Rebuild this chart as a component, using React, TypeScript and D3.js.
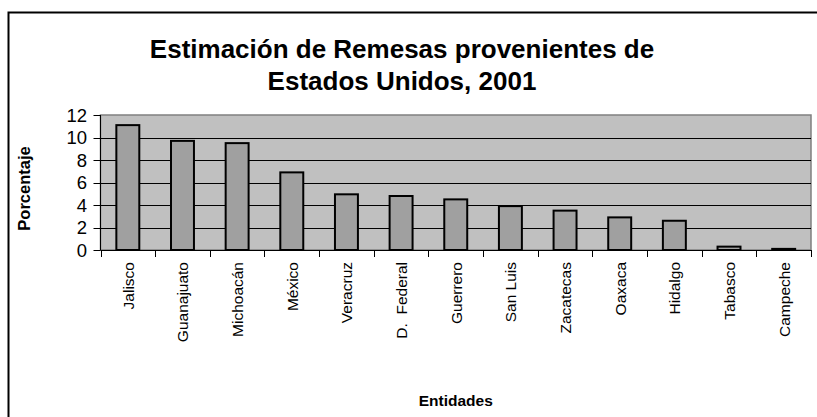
import React from "react";
import * as d3 from "d3";

const categories = ["Jalisco", "Guanajuato", "Michoacán", "México", "Veracruz", "D.  Federal", "Guerrero", "San Luis", "Zacatecas", "Oaxaca", "Hidalgo", "Tabasco", "Campeche"];
const values = [11.1, 9.7, 9.5, 6.9, 4.95, 4.8, 4.5, 3.9, 3.5, 2.9, 2.6, 0.3, 0.1];
const yTicks = [0, 2, 4, 6, 8, 10, 12];
const titleLines = ["Estimación de Remesas provenientes de", "Estados Unidos, 2001"];

export default function App() {
  const W = 817, H = 417;
  const left = 100.5, right = 811, top = 115, bottom = 250;
  const x = d3.scaleBand<string>().domain(categories).range([left, right]).paddingInner(0.58).paddingOuter(0.29);
  const y = d3.scaleLinear().domain([0, 12]).range([bottom, top]);
  const step = x.step();
  const font = "Arial, 'Liberation Sans', Helvetica, sans-serif";
  return (
    <div style={{ position: "absolute", left: 0, top: 0 }}>
      <svg width={W} height={H} style={{ display: "block" }} fontFamily={font}>
        <rect x={0} y={0} width={W} height={H} fill="white" />
        <rect x={8.5} y={12.5} width={W + 20} height={H + 20} fill="none" stroke="black" strokeWidth={2} />
        {titleLines.map((t, i) => (
          <text key={i} x={402} y={58 + i * 32} textAnchor="middle" fontSize={26} fontWeight="bold">{t}</text>
        ))}
        <rect x={left} y={top} width={right - left} height={bottom - top} fill="#C0C0C0" stroke="#808080" strokeWidth={1.5} />
        {yTicks.filter(v => v > 0 && v < 12).map(v => (
          <line key={v} x1={left} x2={right} y1={Math.round(y(v)) + 0.5} y2={Math.round(y(v)) + 0.5} stroke="black" strokeWidth={1} />
        ))}
        {categories.map((c, i) => (
          <rect key={c} x={x(c)} y={y(values[i])} width={x.bandwidth()} height={bottom - y(values[i])} fill="#A0A0A0" stroke="black" strokeWidth={2} />
        ))}
        <line x1={left} x2={left} y1={top} y2={bottom} stroke="black" strokeWidth={1} />
        <line x1={left} x2={right} y1={bottom + 0.5} y2={bottom + 0.5} stroke="black" strokeWidth={1} />
        {yTicks.map(v => (
          <g key={v}>
            <line x1={left - 7} x2={left} y1={Math.round(y(v)) + 0.5} y2={Math.round(y(v)) + 0.5} stroke="black" />
            <text x={87} y={y(v)} dy="0.36em" textAnchor="end" fontSize={18.5}>{v}</text>
          </g>
        ))}
        {d3.range(categories.length + 1).map(i => {
          const xx = Math.round(left + i * step) + 0.5;
          return <line key={i} x1={xx} x2={xx} y1={bottom} y2={bottom + 7} stroke="black" />;
        })}
        {categories.map(c => {
          const cx = (x(c) as number) + x.bandwidth() / 2;
          return (
            <text key={c} transform={`translate(${cx + 6},262) rotate(-90)`} textAnchor="end" fontSize={15.5} style={{ whiteSpace: "pre" }}>{c}</text>
          );
        })}
        <text transform={`translate(30,${(top + bottom) / 2 + 6}) rotate(-90)`} textAnchor="middle" fontSize={16.5} fontWeight="bold">Porcentaje</text>
        <text x={(left + right) / 2} y={406} textAnchor="middle" fontSize={15.5} fontWeight="bold">Entidades</text>
      </svg>
    </div>
  );
}
